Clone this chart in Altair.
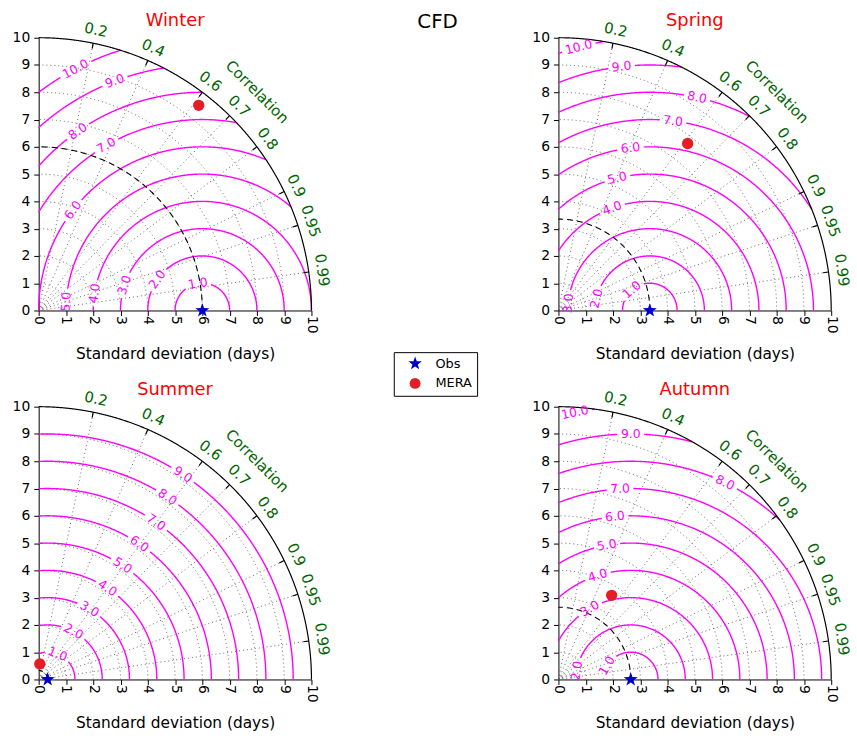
import math

import altair as alt
import numpy as np
import pandas as pd

# ---------------------------------------------------------------- data
seasons = ["Winter", "Spring", "Summer", "Autumn"]
obs_std = [6.0, 3.35, 0.33, 2.65]          # reference (Obs) standard deviation, days
model_std = [9.54, 7.74, 0.57, 3.65]       # MERA standard deviation, days
model_corr = [0.615, 0.612, 0.07, 0.534]   # MERA correlation with Obs

# centred RMS difference contours drawn in each panel
rms_levels = [
    [1, 2, 3, 4, 5, 6, 7, 8, 9, 10],
    [1, 2, 3, 4, 5, 6, 7, 8, 9, 10],
    [1, 2, 3, 4, 5, 6, 7, 8, 9],
    [1, 2, 3, 4, 5, 6, 7, 8, 9, 10],
]
# position of each contour label along its contour (degrees, around the Obs point)
rms_label_at = [
    [99.5, 145.4, 161.9, 171.0, 176.3, 142.2, 120.2, 124.8, 110.9, 117.7],
    [131.0, 167.4, 175.0, 110.2, 103.9, 96.8, 83.0, 77.5, 96.6, 105.1],
    [68.5, 61.6, 59.3, 56.8, 56.7, 55.9, 55.4, 56.7, 56.6],
    [150.0, 170.8, 120.0, 107.6, 100.1, 95.5, 93.2, 64.4, 90.0, 101.8],
]
corr_ticks = [0.2, 0.4, 0.6, 0.7, 0.8, 0.9, 0.95, 0.99]
std_grid = [1, 2, 3, 4, 5, 6, 7, 8, 9]
std_max = 10
std_axis_ticks = list(range(0, 11))

# ---------------------------------------------------------------- style
SIDE = 275                      # panel side in pixels
PX = SIDE / std_max             # pixels per day of standard deviation
FONT = "DejaVu Sans"
RMS_FS = 12.5
CORR_FS = 15
MAGENTA = "#ff00ff"
GREEN = "#006400"


def star_path(outer=1.3, inner=0.52):
    pts = []
    for i in range(10):
        r = outer if i % 2 == 0 else inner
        a = math.radians(-90 + 36 * i)
        pts.append(f"{r * math.cos(a):.3f},{r * math.sin(a):.3f}")
    return "M" + "L".join(pts) + "Z"


STAR = star_path()


def arc(r, a0, a1, cx=0.0):
    n = max(6, int(abs(a1 - a0) * max(r, 0.5) / 1.5) + 2)
    t = np.radians(np.linspace(a0, a1, n))
    return cx + r * np.cos(t), r * np.sin(t)


def ray(a, r0, r1):
    t = math.radians(a)
    r = np.array([r0, r1])
    return r * math.cos(t), r * math.sin(t)


def pieces_frame(pieces):
    rows = []
    for seg, (xs, ys) in enumerate(pieces):
        for i, (x, y) in enumerate(zip(xs, ys)):
            rows.append({"x": round(float(x), 4), "y": round(float(y), 4), "i": i, "seg": seg})
    return pd.DataFrame(rows)


def text_angle(a):
    # text runs along the tangent of an arc at polar angle a (degrees)
    return round((90.0 - a) % 360.0, 2)


X = alt.X(
    "x:Q",
    scale=alt.Scale(domain=[0, std_max], nice=False, zero=False),
    axis=alt.Axis(
        values=std_axis_ticks, format="d", labelAngle=90, grid=False,
        tickSize=5, labelPadding=0, titlePadding=14,
        title="Standard deviation (days)",
    ),
)
Y = alt.Y(
    "y:Q",
    scale=alt.Scale(domain=[0, std_max], nice=False, zero=False),
    axis=alt.Axis(values=std_axis_ticks, format="d", grid=False,
                  tickSize=5, labelPadding=4, title=None),
)


def panel(k):
    s = obs_std[k]
    corr_angles = [math.degrees(math.acos(c)) for c in corr_ticks]

    # dotted standard-deviation arcs and correlation rays
    grid = [arc(r, 0, 90) for r in std_grid]
    grid += [ray(a, 0, std_max) for a in corr_angles]
    grid_df = pieces_frame(grid)

    # outer boundary with correlation ticks
    outer = [arc(std_max, 0, 90)] + [ray(a, std_max - 0.2, std_max) for a in corr_angles]
    outer_df = pieces_frame(outer)

    # RMS contours around the Obs point, broken under their labels
    rms = []
    lab_rows = []
    for lev, at in zip(rms_levels[k], rms_label_at[k]):
        lo = math.degrees(math.acos(float(np.clip((std_max**2 - s * s - lev * lev) / (2 * s * lev), -1, 1))))
        hi = math.degrees(math.acos(float(np.clip(-s / lev, -1, 1))))
        label = f"{lev:.1f}"
        half = math.degrees((len(label) * 0.32 * RMS_FS + 1.5) / PX / lev)
        for a0, a1 in ((lo, at - half), (at + half, hi)):
            a0, a1 = max(a0, lo), min(a1, hi)
            if a1 > a0:
                rms.append(arc(lev, a0, a1, cx=s))
        t = math.radians(at)
        lab_rows.append({"x": s + lev * math.cos(t), "y": lev * math.sin(t),
                         "label": label, "ang": text_angle(at)})
    rms_df = pieces_frame(rms)
    rms_lab = pd.DataFrame(lab_rows)

    obs_df = pieces_frame([arc(s, 0, 90)])

    corr_rows = []
    for c, a in zip(corr_ticks, corr_angles):
        t = math.radians(a)
        corr_rows.append({"x": 10.5 * math.cos(t), "y": 10.5 * math.sin(t),
                          "label": f"{c:g}", "ang": text_angle(a)})
    t = math.radians(45)
    corr_rows.append({"x": 11.33 * math.cos(t), "y": 11.33 * math.sin(t),
                      "label": "Correlation", "ang": text_angle(45)})
    corr_df = pd.DataFrame(corr_rows)

    pts = pd.DataFrame([
        {"series": "Obs", "x": s, "y": 0.0},
        {"series": "MERA", "x": model_std[k] * model_corr[k],
         "y": model_std[k] * math.sqrt(1 - model_corr[k] ** 2)},
    ])

    line_enc = dict(x=X, y=Y, detail="seg:N", order="i:Q")
    layers = [
        alt.Chart(grid_df).mark_line(color="#555555", strokeWidth=0.9, strokeDash=[1, 3]).encode(**line_enc),
        alt.Chart(rms_df).mark_line(color=MAGENTA, strokeWidth=1.4).encode(**line_enc),
        alt.Chart(obs_df).mark_line(color="black", strokeWidth=1.1, strokeDash=[6, 4]).encode(**line_enc),
        alt.Chart(outer_df).mark_line(color="black", strokeWidth=1.2).encode(**line_enc),
        alt.Chart(rms_lab).mark_text(color=MAGENTA, font=FONT, fontSize=RMS_FS,
                                     align="center", baseline="middle").encode(
            x=X, y=Y, text="label:N", angle=alt.Angle("ang:Q", scale=None)),
        alt.Chart(corr_df).mark_text(color=GREEN, font=FONT, fontSize=CORR_FS,
                                     align="center", baseline="middle").encode(
            x=X, y=Y, text="label:N", angle=alt.Angle("ang:Q", scale=None)),
        alt.Chart(pts).mark_point(filled=True, size=130, opacity=1).encode(
            x=X, y=Y,
            shape=alt.Shape("series:N", scale=alt.Scale(domain=["Obs", "MERA"], range=[STAR, "circle"]),
                            legend=alt.Legend(title=None)),
            color=alt.Color("series:N", scale=alt.Scale(domain=["Obs", "MERA"], range=["#0000cc", "#e41e26"]),
                            legend=alt.Legend(title=None)),
        ),
    ]
    return alt.layer(*layers).properties(
        width=SIDE, height=SIDE,
        title=alt.Title(seasons[k], color="red", fontSize=18, font=FONT,
                        fontWeight="normal", frame="group", offset=-9),
    )


grid_chart = alt.concat(
    panel(0), panel(1), panel(2), panel(3),
    columns=2, spacing=alt.RowColnumber(row=97, column=249), bounds="flush",
)

chart = (
    grid_chart
    .properties(
        title=alt.Title("CFD", color="black", fontSize=20, font=FONT,
                        fontWeight="normal", anchor="middle", offset=-20, dx=6),
        padding={"left": 12, "top": 8, "right": 5, "bottom": 5},
    )
    .configure_view(stroke=None)
    .configure_axis(
        domainColor="black", tickColor="black", labelColor="black",
        labelFont=FONT, labelFontSize=14, titleFont=FONT, titleFontSize=15.5,
        titleFontWeight="normal", titleColor="black", domainWidth=1,
    )
    .configure_legend(
        orient="none", legendX=358, legendY=317,
        strokeColor="black", fillColor="white", padding=5, symbolOffset=10,
        labelFont=FONT, labelFontSize=13, symbolSize=120, labelOffset=14,
        rowPadding=6, symbolStrokeWidth=0,
    )
)

chart.save("out.html", embed_options={"renderer": "svg", "actions": False})
